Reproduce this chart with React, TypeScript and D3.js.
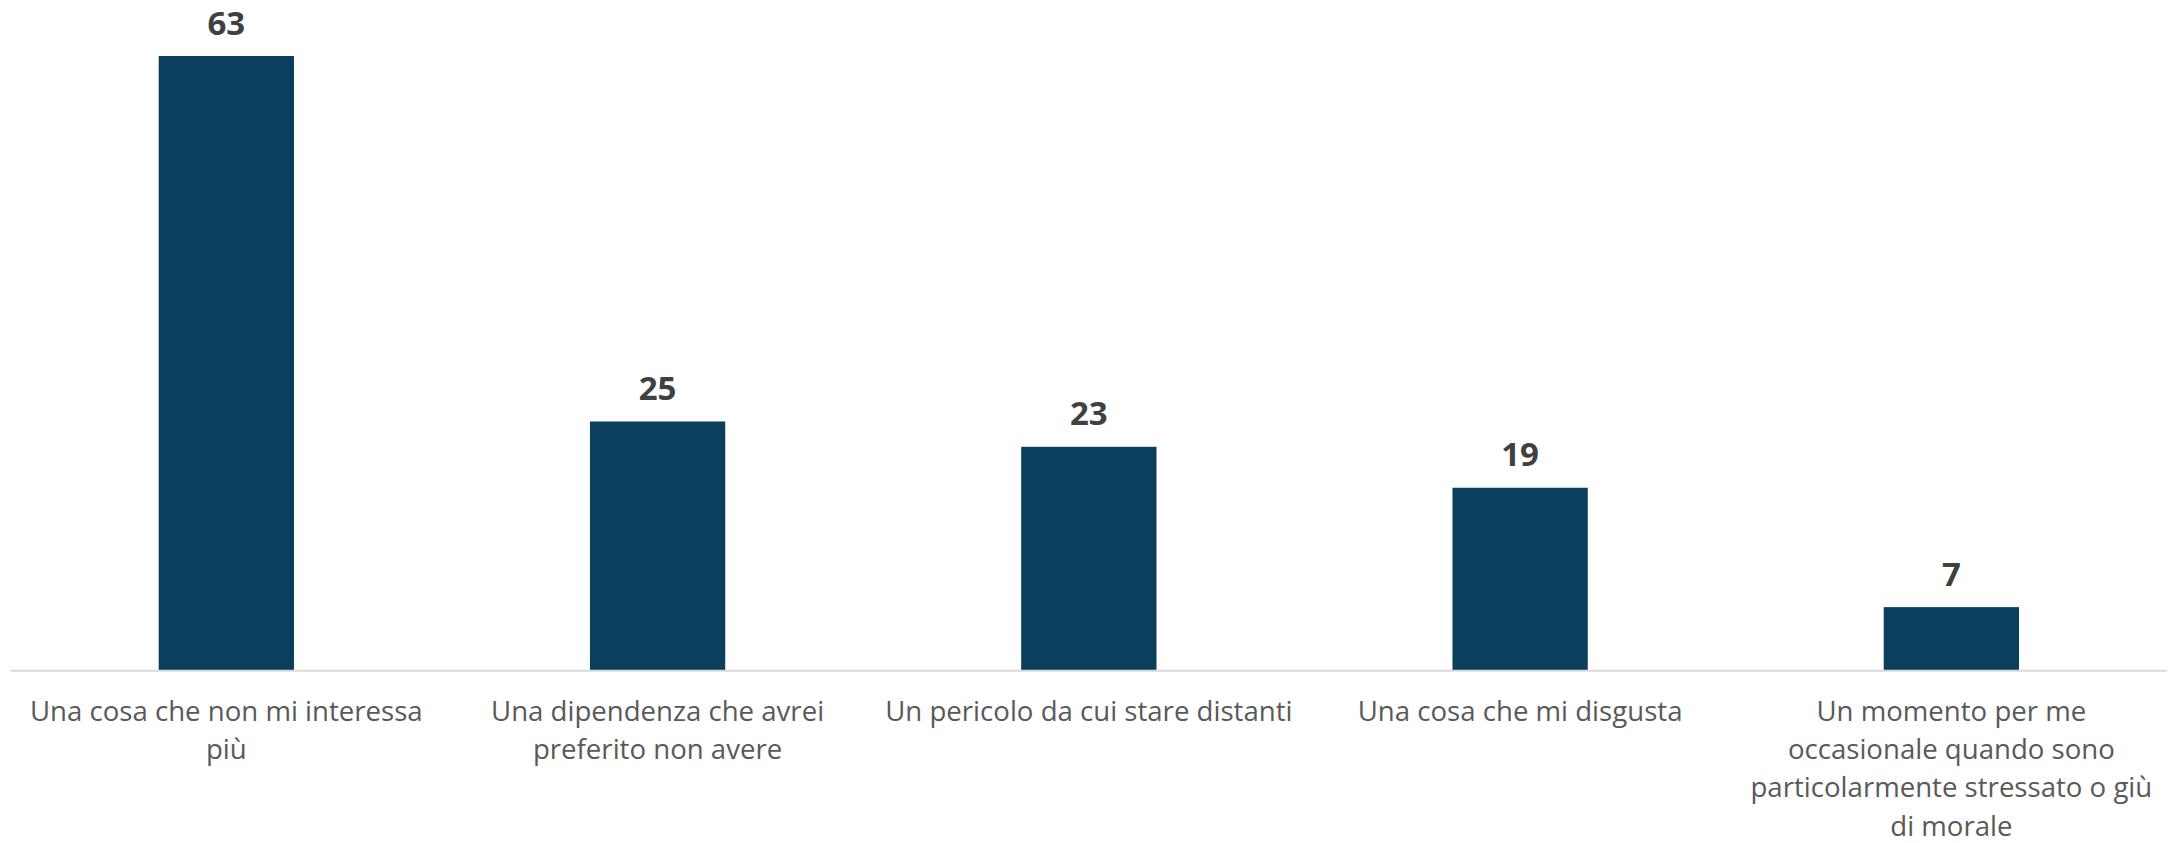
import React from "react";
import * as d3 from "d3";

const categories: string[][] = [
  ["Una cosa che non mi interessa", "più"],
  ["Una dipendenza che avrei", "preferito non avere"],
  ["Un pericolo da cui stare distanti"],
  ["Una cosa che mi disgusta"],
  ["Un momento per me", "occasionale quando sono", "particolarmente stressato o giù", "di morale"],
];
const values: number[] = [63.0, 25.5, 22.9, 18.7, 6.45];
const valueLabels: string[] = ["63", "25", "23", "19", "7"];

const W = 2177;
const H = 843;
const baseY = 670;
const left = 10.7;
const right = 2167;

export default function App() {
  const ids = d3.range(categories.length).map(String);
  const x = d3
    .scaleBand<string>()
    .domain(ids)
    .range([left, right])
    .paddingInner(0.6863)
    .paddingOuter(0.6863 / 2);
  const y = d3.scaleLinear().domain([0, 63]).range([baseY, 56]);

  return (
    <svg
      width={W}
      height={H}
      style={{ position: "absolute", left: 0, top: 0, background: "#fff" }}
      fontFamily="'Open Sans', sans-serif"
    >
      {values.map((v, i) => {
        const bx = x(String(i))!;
        const bw = x.bandwidth();
        return (
          <g key={i}>
            <rect x={bx} y={y(v)} width={bw} height={baseY - y(v)} fill="#0a405d" />
            <text
              x={bx + bw / 2}
              y={y(v) - 21.5}
              textAnchor="middle"
              fontSize={33}
              fontWeight={700}
              fill="#404040"
            >
              {valueLabels[i]}
            </text>
          </g>
        );
      })}
      <line x1={left} x2={right} y1={baseY + 0.8} y2={baseY + 0.8} stroke="#d9d9d9" strokeWidth={2} />
      {categories.map((lines, i) => {
        const cx = x(String(i))! + x.bandwidth() / 2;
        return (
          <text key={i} textAnchor="middle" fontSize={27.6} fill="#595959">
            {lines.map((ln, j) => (
              <tspan key={j} x={cx} y={720.5 + j * 38.4}>
                {ln}
              </tspan>
            ))}
          </text>
        );
      })}
    </svg>
  );
}
